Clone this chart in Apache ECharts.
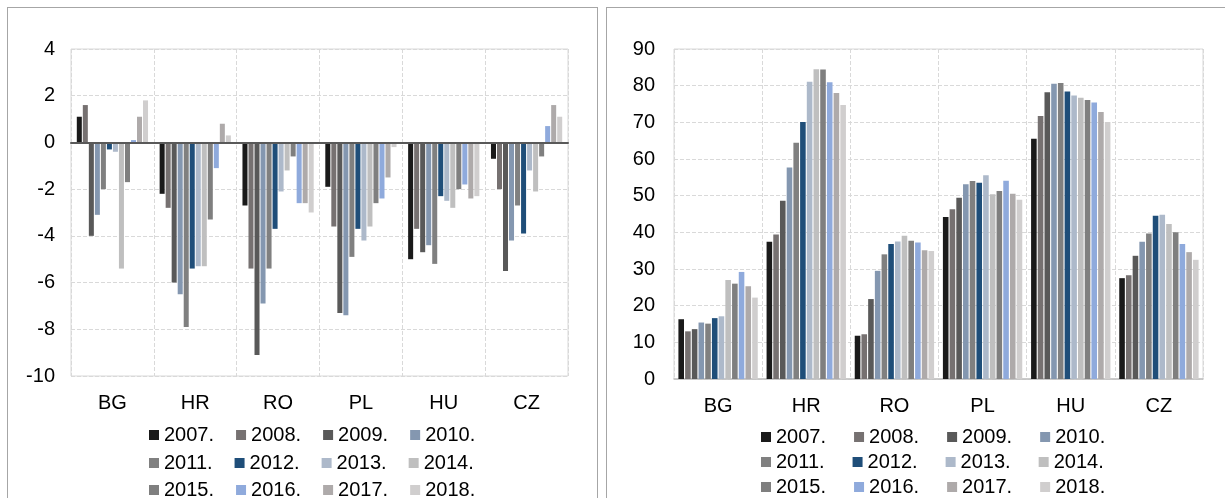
<!DOCTYPE html>
<html>
<head>
<meta charset="utf-8">
<script src="https://cdn.jsdelivr.net/npm/echarts@6/dist/echarts.min.js"></script>
<style>
  html, body { margin: 0; padding: 0; background: #fff; overflow: hidden; }
  .panel { position: absolute; top: 7px; border: 1px solid #a6a6a6; background: #fff; }
  #left { left: 7px; width: 589px; height: 500px; }
  #right { left: 606px; width: 620px; height: 500px; }
</style>
</head>
<body>
<div id="left" class="panel"></div>
<div id="right" class="panel"></div>
<script>
const countries = ["BG", "HR", "RO", "PL", "HU", "CZ"];
const years = ["2007.", "2008.", "2009.", "2010.", "2011.", "2012.",
  "2013.", "2014.", "2015.", "2016.", "2017.", "2018."];
const colors = ["#1a1a1a", "#767171", "#595959", "#8497b0", "#808080", "#1f4e79",
  "#adb9ca", "#bfbfbf", "#7f7f7f", "#8faadc", "#aeaaaa", "#d0cece"];

// saldo (% BDP), po zemlji, 2007.-2018.
const deficitBG = [1.1, 1.6, -4.0, -3.1, -2.0, -0.3, -0.4, -5.4, -1.7, 0.1, 1.1, 1.8];
const deficitHR = [-2.2, -2.8, -6.0, -6.5, -7.9, -5.4, -5.3, -5.3, -3.3, -1.1, 0.8, 0.3];
const deficitRO = [-2.7, -5.4, -9.1, -6.9, -5.4, -3.7, -2.1, -1.2, -0.6, -2.6, -2.6, -3.0];
const deficitPL = [-1.9, -3.6, -7.3, -7.4, -4.9, -3.7, -4.2, -3.6, -2.6, -2.4, -1.5, -0.2];
const deficitHU = [-5.0, -3.7, -4.7, -4.4, -5.2, -2.3, -2.5, -2.8, -2.0, -1.8, -2.4, -2.3];
const deficitCZ = [-0.7, -2.0, -5.5, -4.2, -2.7, -3.9, -1.2, -2.1, -0.6, 0.7, 1.6, 1.1];

// javni dug (% BDP)
const debtBG = [16.3, 13.0, 13.6, 15.4, 15.1, 16.6, 17.1, 27.0, 26.0, 29.2, 25.3, 22.2];
const debtHR = [37.4, 39.4, 48.6, 57.7, 64.4, 70.1, 81.1, 84.5, 84.4, 80.9, 78.0, 74.7];
const debtRO = [11.8, 12.2, 21.8, 29.5, 34.0, 36.8, 37.5, 39.1, 37.7, 37.2, 35.1, 34.9];
const debtPL = [44.2, 46.3, 49.4, 53.1, 54.0, 53.5, 55.6, 50.4, 51.3, 54.1, 50.5, 48.9];
const debtHU = [65.5, 71.7, 78.2, 80.5, 80.7, 78.4, 77.3, 76.7, 76.1, 75.4, 72.8, 70.1];
const debtCZ = [27.5, 28.3, 33.6, 37.4, 39.7, 44.5, 44.8, 42.3, 40.0, 36.8, 34.6, 32.5];

const deficitRows = [deficitBG, deficitHR, deficitRO, deficitPL, deficitHU, deficitCZ];
const debtRows = [debtBG, debtHR, debtRO, debtPL, debtHU, debtCZ];

const deficitTicks = { min: -10, max: 4, interval: 2 };
const debtTicks = { min: 0, max: 90, interval: 10 };

const FONT = "'Liberation Sans', Arial, sans-serif";
const gridLine = { show: true, lineStyle: { color: "#d9d9d9", type: "dashed", width: 1 } };

// 3 reda legende po 4 godine
const makeLegends = (left, tops, gap) =>
  tops.map((top, r) => ({
    left: left,
    top: top,
    orient: "horizontal",
    icon: "rect",
    itemWidth: 10,
    itemHeight: 10,
    itemGap: gap,
    selectedMode: false,
    textStyle: { fontFamily: FONT, fontSize: 20, color: "#000" },
    data: years.slice(r * 4, r * 4 + 4),
  }));

const makeSeries = (rows, catGap) =>
  years.map((y, i) => ({
    name: y,
    type: "bar",
    xAxisIndex: 0,
    data: rows.map((row) => row[i]),
    barGap: "20%",
    barCategoryGap: catGap,
    itemStyle: { color: colors[i] },
    silent: true,
  }));

const renderLeft = () => {
  const chart = echarts.init(document.getElementById("left"));
  chart.setOption({
    animation: false,
    color: colors,
    legend: makeLegends(136, [412, 440, 467], 22),
    grid: {
      left: 63, top: 41, width: 497, height: 327,
      show: true, borderColor: "#d9d9d9", borderWidth: 1,
    },
    xAxis: [
      {
        type: "category",
        data: countries,
        axisLine: { show: false, onZero: false },
        axisTick: { show: false },
        splitLine: gridLine,
        axisLabel: { margin: 17, fontFamily: FONT, fontSize: 20, color: "#000" },
      },
      {
        // nulta linija
        type: "category",
        data: countries,
        position: "bottom",
        axisLine: { show: true, onZero: true, lineStyle: { color: "#595959", width: 2 } },
        axisTick: { show: false },
        axisLabel: { show: false },
        splitLine: { show: false },
        z: 10,
      },
    ],
    yAxis: {
      type: "value",
      min: deficitTicks.min,
      max: deficitTicks.max,
      interval: deficitTicks.interval,
      axisLine: { show: false },
      axisTick: { show: false },
      splitLine: gridLine,
      axisLabel: { margin: 16, fontFamily: FONT, fontSize: 20, color: "#000" },
    },
    series: makeSeries(deficitRows, "14%"),
  });
};

const renderRight = () => {
  const chart = echarts.init(document.getElementById("right"));
  chart.setOption({
    animation: false,
    color: colors,
    legend: makeLegends(149, [414, 439, 464], 28),
    grid: {
      left: 67, top: 41, width: 529, height: 330,
      show: true, borderColor: "#d9d9d9", borderWidth: 1,
    },
    xAxis: {
      type: "category",
      data: countries,
      axisLine: { show: true, lineStyle: { color: "#bfbfbf", width: 1.5 } },
      axisTick: { show: false },
      splitLine: gridLine,
      axisLabel: { margin: 17, fontFamily: FONT, fontSize: 20, color: "#000" },
    },
    yAxis: {
      type: "value",
      min: debtTicks.min,
      max: debtTicks.max,
      interval: debtTicks.interval,
      axisLine: { show: false },
      axisTick: { show: false },
      splitLine: gridLine,
      axisLabel: { margin: 19, fontFamily: FONT, fontSize: 20, color: "#000" },
    },
    series: makeSeries(debtRows, "10%"),
  });
};

renderLeft();
renderRight();
</script>
</body>
</html>
